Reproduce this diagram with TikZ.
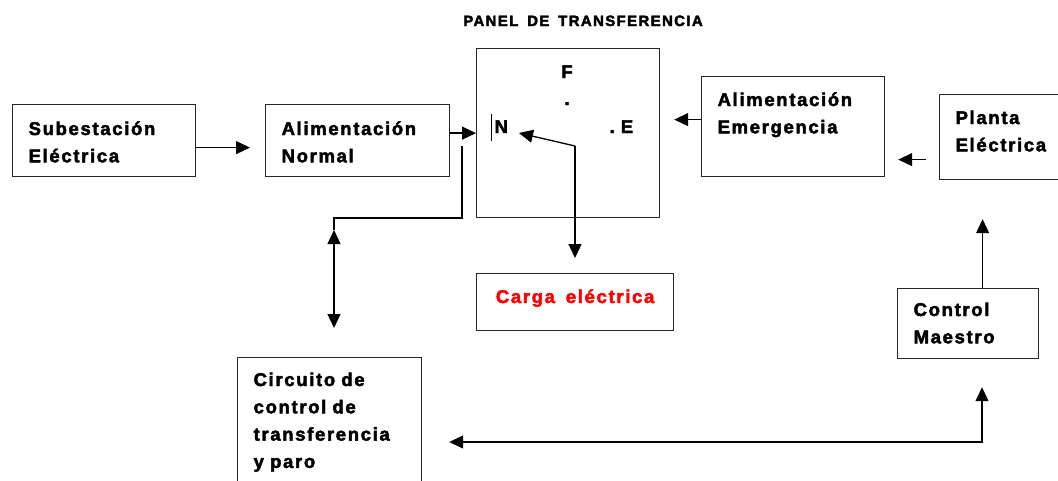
\documentclass[tikz,border=0pt]{standalone}
\usepackage{fontspec}
\setmainfont{Liberation Sans}[LetterSpace=9, WordSpace=1.6, BoldFeatures={FakeBold=2.5}]
\usetikzlibrary{arrows.meta}
\tikzset{
	caja/.style={draw=black!85, line width=1.2pt, anchor=north west, inner sep=0pt},
	texto/.style={anchor=base west, inner sep=0pt, text width=200pt, align=left, font=\bfseries\fontsize{18.5}{27.3}\selectfont},
	letra/.style={anchor=base, inner sep=0pt, font=\bfseries\fontsize{18.5}{22}\selectfont}
}
\begin{document}
\begin{tikzpicture}[x=1pt, y=-1pt, line width=1.3pt, >={Triangle[length=14pt,width=13pt]}]
			\useasboundingbox (0,0) rectangle (1058,480);
			\node[anchor=base, inner sep=0pt, font=\bfseries\fontsize{15}{18}\selectfont] (titulo) at (583,26) {PANEL DE TRANSFERENCIA};
			\node[caja, minimum width=183pt, minimum height=72pt] (sub) at (12,104) {};
			\node[caja, minimum width=184pt, minimum height=72pt] (normal) at (265,104) {};
			\node[caja, minimum width=183pt, minimum height=169pt] (panel) at (476,48) {};
			\node[caja, minimum width=183pt, minimum height=100pt] (emerg) at (701,76) {};
			\node[caja, minimum width=130pt, minimum height=85pt] (planta) at (939,94) {};
			\node[caja, minimum width=197pt, minimum height=57pt] (carga) at (476,273) {};
			\node[caja, minimum width=141pt, minimum height=70pt] (control) at (897,288) {};
			\node[caja, minimum width=184pt, minimum height=140pt] (circuito) at (237,357) {};
			\node[texto] (subT) at ([xshift=16pt,yshift=-31pt]sub.north west) {Subestación\\Eléctrica};
			\node[texto] (normalT) at ([xshift=16pt,yshift=-31pt]normal.north west) {Alimentación\\Normal};
			\node[texto] (emergT) at ([xshift=16pt,yshift=-30pt]emerg.north west) {Alimentación\\Emergencia};
			\node[texto] (plantaT) at ([xshift=16pt,yshift=-30pt]planta.north west) {Planta\\Eléctrica};
			\node[texto] (controlT) at ([xshift=16pt,yshift=-28pt]control.north west) {Control\\Maestro};
			\node[texto] (circuitoT) at ([xshift=16pt,yshift=-29pt]circuito.north west) {Circuito de\\control de\\transferencia\\y paro};
			\node[letra, text=red] (cargaT) at ([yshift=-30pt]carga.north) {Carga eléctrica};
			\node[letra] (F) at (567,78) {F};
			\node[letra] (puntoF) at (567,105) {.};
			\node[letra, anchor=base west] (N) at (494,133) {N};
			\node[letra, anchor=base west] (E) at (609,133) {.\hspace{6pt}E};
			\draw[line width=1pt] (491.5,114) -- (491.5,141);
			\coordinate (sw) at (575,146);
			\coordinate (puntaN) at (519,133);
			\draw[->] (sw) -- (puntaN);
			\draw[->] (sw) -- ([yshift=15pt]carga.north -| sw);
			\draw[->] ([yshift=-7pt]sub.east) -- ([xshift=-15pt,yshift=-7pt]normal.west);
			\draw[->] (normal.east |- panel.west) -- (panel.west);
			\coordinate (derivN) at (462,146);
			\coordinate (codo) at (334,218);
			\coordinate (ctrlA) at (334,230);
			\draw (derivN) |- (codo) -- (ctrlA);
			\draw[<->] (ctrlA) -- ([yshift=29pt]circuito.north -| ctrlA);
			\draw[->] ([yshift=7pt]emerg.west) -- ([xshift=14pt,yshift=7pt]emerg.west -| panel.east);
			\draw[->] ([xshift=-13pt,yshift=-22.5pt]planta.west) -- ([xshift=13pt,yshift=-22.5pt]planta.west -| emerg.east);
			\draw[->] ([xshift=14.5pt]control.north) -- ([xshift=14.5pt,yshift=-39pt]control.north |- planta.south);
			\coordinate (fondo) at (982,442);
			\draw[<->] ([xshift=27pt]fondo -| circuito.east) -- (fondo) -- ([yshift=-28pt]control.south -| fondo);
		\end{tikzpicture}
\end{document}
